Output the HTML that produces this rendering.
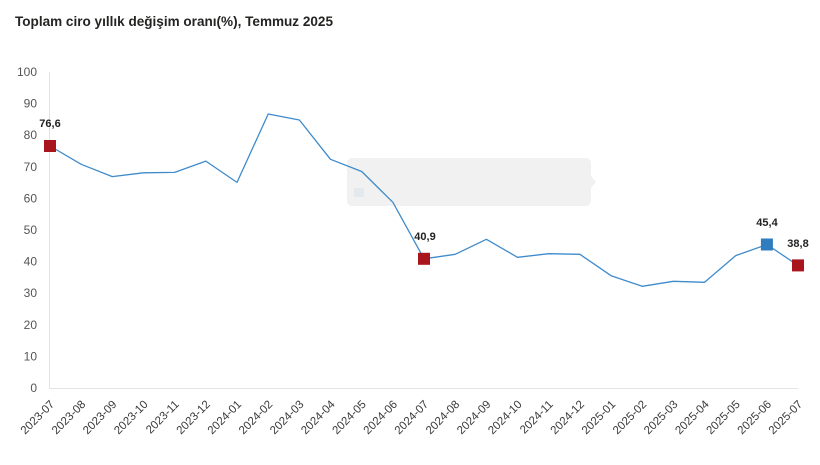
<!DOCTYPE html>
<html><head><meta charset="utf-8"><style>
html,body{margin:0;padding:0;background:#fff;}
svg{display:block;font-family:"Liberation Sans","DejaVu Sans",sans-serif;}
</style></head><body>
<svg width="820" height="465" viewBox="0 0 820 465" xmlns="http://www.w3.org/2000/svg">
<rect width="820" height="465" fill="#fff"/>
<text x="15" y="26" font-size="14" font-weight="bold" fill="#252423" textLength="318" lengthAdjust="spacingAndGlyphs">Toplam ciro yıllık değişim oranı(%), Temmuz 2025</text>
<g font-size="12" fill="#555" text-anchor="end">
<text x="37" y="76">100</text>
<text x="37" y="107.6">90</text>
<text x="37" y="139.2">80</text>
<text x="37" y="170.8">70</text>
<text x="37" y="202.4">60</text>
<text x="37" y="234">50</text>
<text x="37" y="265.6">40</text>
<text x="37" y="297.2">30</text>
<text x="37" y="328.8">20</text>
<text x="37" y="360.4">10</text>
<text x="37" y="392">0</text>
</g>
<line x1="49.5" y1="72" x2="49.5" y2="388" stroke="#e3e3e3" stroke-width="1"/>
<line x1="49" y1="388.5" x2="798" y2="388.5" stroke="#e3e3e3" stroke-width="1"/>
<rect x="347" y="158" width="244" height="48" rx="5" fill="#f1f1f1"/>
<polygon points="591,176 596,182 591,188" fill="#f1f1f1"/>
<rect x="354" y="188" width="10" height="9" fill="#e4e9ee"/>
<polyline fill="none" stroke="#3f8bcb" stroke-width="1.3" stroke-linejoin="round" points="
50,146 81.2,164.3 112.3,176.6 143.5,172.8 174.7,172.4 205.8,161.1 237,182.4 268.2,114 299.4,120 330.5,159.3 361.7,171.5 392.9,202.3 424,258.8 455.2,254.3 486.4,239.3 517.5,257.3 548.7,253.7 579.9,254.3 611.1,275.7 642.2,286.3 673.4,281.3 704.6,282.3 735.7,255.6 766.9,244.5 798,265.4"/>
<rect x="44" y="140" width="12" height="12" fill="#a8151c"/>
<rect x="418" y="252.8" width="12" height="12" fill="#a8151c"/>
<rect x="760.9" y="238.5" width="12" height="12" fill="#2f7dbf"/>
<rect x="792" y="259.4" width="12" height="12" fill="#a8151c"/>
<g font-size="11" font-weight="bold" fill="#222" text-anchor="middle">
<text x="50" y="127">76,6</text>
<text x="425" y="240">40,9</text>
<text x="767" y="226">45,4</text>
<text x="798" y="247">38,8</text>
</g>
<g font-size="11.5" fill="#3a3a3a" text-anchor="end">
<text transform="translate(55,405) rotate(-45)">2023-07</text>
<text transform="translate(86.2,405) rotate(-45)">2023-08</text>
<text transform="translate(117.3,405) rotate(-45)">2023-09</text>
<text transform="translate(148.5,405) rotate(-45)">2023-10</text>
<text transform="translate(179.7,405) rotate(-45)">2023-11</text>
<text transform="translate(210.8,405) rotate(-45)">2023-12</text>
<text transform="translate(242,405) rotate(-45)">2024-01</text>
<text transform="translate(273.2,405) rotate(-45)">2024-02</text>
<text transform="translate(304.4,405) rotate(-45)">2024-03</text>
<text transform="translate(335.5,405) rotate(-45)">2024-04</text>
<text transform="translate(366.7,405) rotate(-45)">2024-05</text>
<text transform="translate(397.9,405) rotate(-45)">2024-06</text>
<text transform="translate(429,405) rotate(-45)">2024-07</text>
<text transform="translate(460.2,405) rotate(-45)">2024-08</text>
<text transform="translate(491.4,405) rotate(-45)">2024-09</text>
<text transform="translate(522.5,405) rotate(-45)">2024-10</text>
<text transform="translate(553.7,405) rotate(-45)">2024-11</text>
<text transform="translate(584.9,405) rotate(-45)">2024-12</text>
<text transform="translate(616.1,405) rotate(-45)">2025-01</text>
<text transform="translate(647.2,405) rotate(-45)">2025-02</text>
<text transform="translate(678.4,405) rotate(-45)">2025-03</text>
<text transform="translate(709.6,405) rotate(-45)">2025-04</text>
<text transform="translate(740.7,405) rotate(-45)">2025-05</text>
<text transform="translate(771.9,405) rotate(-45)">2025-06</text>
<text transform="translate(803,405) rotate(-45)">2025-07</text>
</g>
</svg>
</body></html>
